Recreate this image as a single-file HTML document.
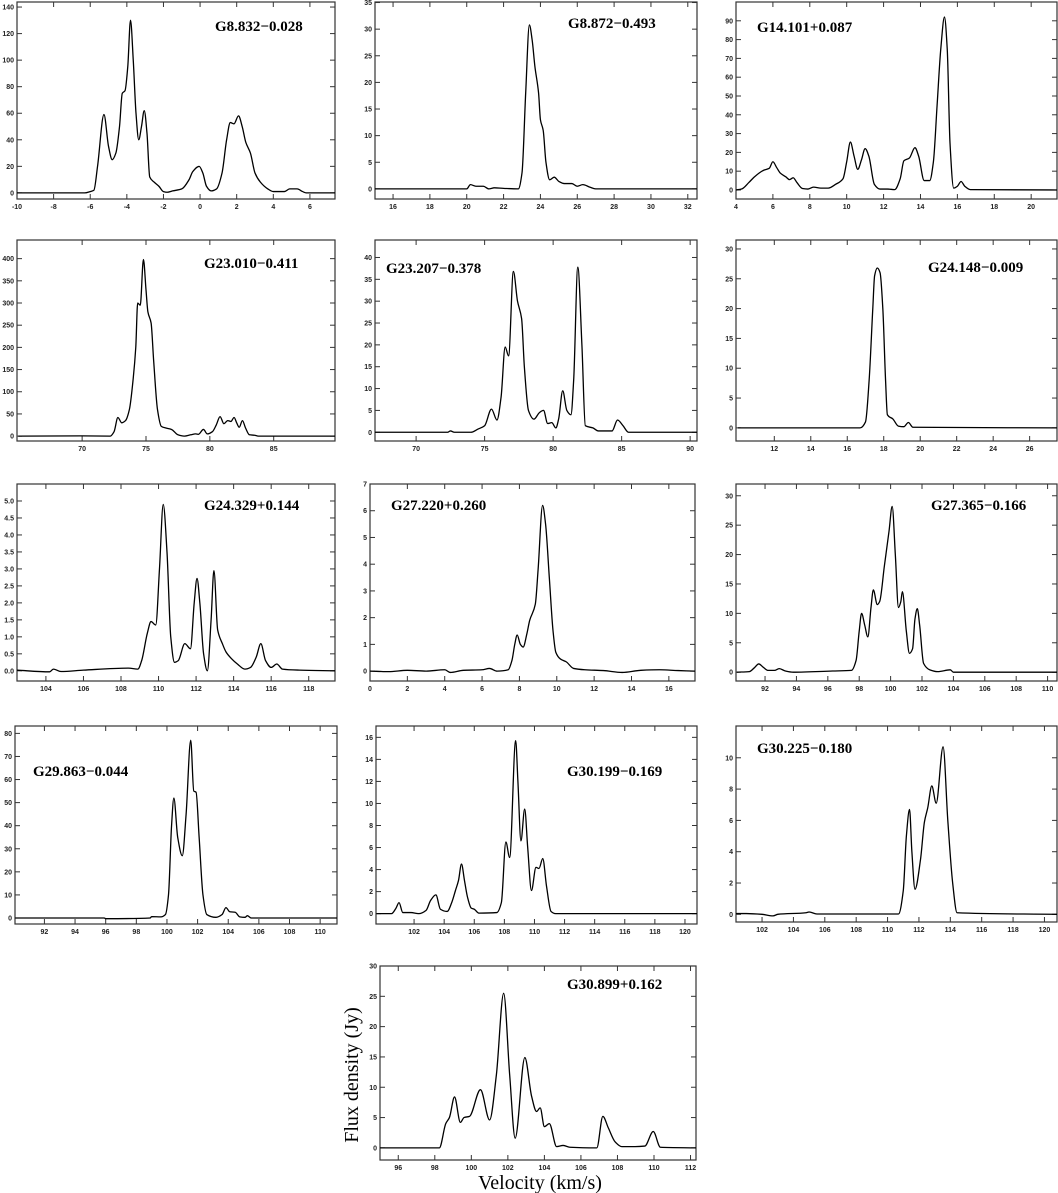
<!DOCTYPE html>
<html><head><meta charset="utf-8"><style>
html,body{margin:0;padding:0;background:#fff;}
svg{display:block;}
.tl{font-family:"Liberation Sans",sans-serif;font-size:7px;font-weight:bold;fill:#222;}
.tt{font-family:"Liberation Serif",serif;font-size:15px;font-weight:bold;fill:#000;}
.ax{font-family:"Liberation Serif",serif;font-size:20px;fill:#000;}
</style></head><body>
<svg id="fig" width="1058" height="1193" viewBox="0 0 1058 1193" xmlns="http://www.w3.org/2000/svg">
<text class="ax" transform="translate(358,1075) rotate(-90)" text-anchor="middle">Flux density (Jy)</text>
<text class="ax" x="540" y="1189" text-anchor="middle">Velocity (km/s)</text>
</svg>
<script>
const p1Vel=[-10,-6.3,-6,-5.8,-5.6,-5.25,-5.0,-4.8,-4.6,-4.4,-4.25,-4.1,-3.95,-3.8,-3.65,-3.5,-3.35,-3.2,-3.05,-2.9,-2.75,-2.5,-2.25,-2.0,-1.8,-1.5,-1.0,-0.6,-0.4,-0.05,0.15,0.35,0.6,0.9,1.2,1.45,1.65,1.85,2.1,2.3,2.5,2.75,3.0,3.3,3.7,4.0,4.6,4.9,5.3,5.6,5.8,7.4];
const p1Flux=[0,0,1,2,20,59,35,25,30,50,75,77,95,130,100,60,40,50,62,45,12,8,5,1,0.5,1.5,3,10,16,20,15,5,1.5,3,15,40,53,52,58,50,38,30,15,8,3,1,1,3,3,1,0,0];
const p2Vel=[15,20,20.2,20.5,20.9,21.2,21.5,22.0,22.8,23.0,23.2,23.4,23.55,23.7,23.9,24.0,24.15,24.3,24.5,24.75,25.0,25.3,25.7,26.0,26.3,26.7,27.0,32.5];
const p2Flux=[0,0,0.8,0.5,0.5,0,0.2,0.1,0,3,18,30.8,28,23,18,13,11,5,1.7,2.2,1.4,1,1,0.5,0.8,0.3,0,0];
const p3Vel=[4,4.3,4.7,5.0,5.5,5.8,6.0,6.2,6.4,6.7,6.9,7.1,7.3,7.6,7.9,8.2,8.6,9.0,9.4,9.8,10.0,10.2,10.4,10.6,10.8,11.0,11.2,11.5,11.8,12.2,12.6,12.9,13.1,13.4,13.7,13.9,14.2,14.5,14.7,14.9,15.1,15.3,15.45,15.6,15.8,16.0,16.2,16.4,16.7,21.4];
const p3Flux=[0,0.5,4,7,10.5,11.5,15,12,9,7,5.5,6.5,4,0.8,0.5,1.5,1,1,3,6,15,25.5,18,11,16,22,18,3,0.5,0.5,0.2,6,15.5,17,22.5,18,5,5,15,45,75,92,75,25,1,2,4.5,2,0.2,0];
const p4Vel=[65,70,72.2,72.5,72.8,73.1,73.4,73.7,74.0,74.2,74.35,74.55,74.8,75.0,75.15,75.4,75.6,75.9,76.2,76.6,77.0,77.5,78.0,78.5,78.9,79.1,79.5,79.8,80.2,80.5,80.8,81.1,81.4,81.65,81.9,82.1,82.3,82.55,82.8,83.1,83.5,83.8,90];
const p4Flux=[0,0.5,0,10,42,30,35,60,130,200,300,295,398,330,280,255,170,60,22,18,15,3,0,3,5,4,15,5,10,25,44,28,35,33,42,30,20,35,18,3,2,0,0];
const p5Vel=[67,72.3,72.5,72.8,74.0,74.5,75.0,75.5,75.9,76.2,76.5,76.75,77.1,77.4,77.7,77.9,78.2,78.6,79.0,79.3,79.6,79.9,80.2,80.4,80.7,81.0,81.3,81.5,81.8,82.1,82.35,82.9,83.3,84.3,84.7,85.1,85.5,90.5];
const p5Flux=[0,0,0.3,0,0,0.7,1.5,5.3,2.8,8,19.5,17.5,36.8,30,26,15,5,3,4.5,5,2,2.2,1,3,9.5,5,4,12,37.8,20,1.5,1,0.3,0.3,2.8,1.5,0,0];
const p6Vel=[10,16.7,17.0,17.2,17.4,17.5,17.65,17.8,17.95,18.1,18.2,18.5,18.8,19.1,19.35,19.6,27.5];
const p6Flux=[0,0,1,8,20,25.5,26.8,26,20,8,2.2,1.5,0.3,0.2,0.9,0.1,0];
const p7Vel=[102.4,104.2,104.4,104.8,106,108.4,108.9,109.1,109.4,109.6,109.85,110.05,110.25,110.45,110.65,110.85,111.05,111.4,111.7,111.9,112.05,112.2,112.4,112.6,112.8,112.95,113.15,113.4,113.6,113.9,114.2,114.6,114.9,115.2,115.45,115.7,116.0,116.3,116.6,117.5,119.4];
const p7Flux=[0.02,-0.03,0.05,-0.02,0.02,0.08,0.05,0.3,1.1,1.45,1.35,3.0,4.9,3.5,1.0,0.25,0.3,0.8,0.65,2.0,2.72,2.0,0.5,0.0,1.5,2.95,1.2,0.8,0.55,0.35,0.2,0.05,0.1,0.4,0.8,0.3,0.1,0.2,0.05,0.02,0];
const p8Vel=[0,1,2,3,4,4.3,5,6,6.4,6.8,7.4,7.6,7.75,7.88,8.05,8.2,8.4,8.55,8.85,9.0,9.24,9.4,9.6,9.8,9.95,10.2,10.5,10.9,11.5,12.5,13.5,14.5,15.5,16.5,17.4];
const p8Flux=[0,-0.02,0.03,0,0.05,-0.05,0.03,0.05,0.1,0,0.05,0.4,1.0,1.35,1.0,0.9,1.4,1.9,2.5,3.8,6.2,5.5,3.5,1.5,0.7,0.45,0.35,0.1,0.05,0.02,-0.05,0.03,0.05,0.02,0];
const p9Vel=[90.2,91.0,91.3,91.6,91.9,92.2,92.6,92.9,93.3,93.8,96.3,97.5,97.8,98.0,98.15,98.35,98.55,98.75,98.9,99.15,99.3,99.6,99.9,100.1,100.3,100.5,100.65,100.75,101.0,101.2,101.4,101.55,101.7,101.85,102.1,102.5,103.0,103.8,104.0,110.6];
const p9Flux=[0,0.1,0.7,1.4,0.8,0.3,0.3,0.6,0.2,0,0.2,0.3,2,7,10,8,6,11,14,11.5,12,18,24,28.2,20,11,12,13.7,7,3.2,4,9,10.8,8,1.5,0.4,0.1,0.4,0,0];
const p10Vel=[90.1,95.9,96.0,98.9,99.0,99.6,99.9,100.1,100.3,100.45,100.7,101.0,101.25,101.55,101.75,101.9,102.1,102.35,102.6,103.2,103.6,103.85,104.1,104.45,104.75,105.1,105.25,105.5,111.1];
const p10Flux=[0,0,-0.3,0,0.6,0.5,1.5,10,40,52,35,27,45,77,55,54.5,35,10,1.5,0.3,1.5,4.5,2.7,2.5,0.5,0.3,1,0,0];
const p11Vel=[99.5,100.5,100.8,101.0,101.25,101.8,102.3,102.8,103.1,103.45,103.75,104.2,104.5,104.75,104.95,105.15,105.35,105.55,105.8,106.0,106.3,107.5,107.8,108.1,108.35,108.75,108.9,109.1,109.35,109.55,109.8,110.1,110.3,110.55,110.8,111.1,111.4,120.8];
const p11Flux=[0,0,0.5,1.0,0.1,0.1,0,0.3,1.2,1.7,0.4,0.2,1.0,2.1,3,4.5,3,1.5,0.5,0.4,0.05,0.1,1,6.5,5.1,15.7,12,6.6,9.5,6,2.1,4.2,4.1,5.0,2.5,0.2,0,0];
const p12Vel=[100.3,101,102,102.7,103,104.8,105,105.5,110.7,111.0,111.2,111.4,111.55,111.75,112.1,112.35,112.56,112.82,113.1,113.54,113.84,114.15,114.43,120.8];
const p12Flux=[0.05,0.05,0,-0.1,0,0.1,0.15,0.02,0.02,1.5,5,6.7,4,1.6,3.5,5.9,6.8,8.2,7.1,10.7,6,2,0.1,0];
const p13Vel=[95,98.25,98.6,98.8,99.08,99.4,99.6,99.9,100.5,101.0,101.37,101.77,102.1,102.4,102.93,103.3,103.57,103.77,104.0,104.27,104.67,105.03,105.4,106.87,107.2,107.5,107.87,108.24,108.9,109.5,109.96,110.35,112.3];
const p13Flux=[0,0,4,5,8.4,4.2,5,5.2,9.6,4.6,12,25.5,12,1.6,14.9,8.5,6,6.6,3.5,4,0.2,0.4,0.1,0,5.2,3.3,1,0.2,0.2,0.3,2.7,0.1,0];

const xt1=[-10,-8,-6,-4,-2,0,2,4,6], yt1=[0,20,40,60,80,100,120,140];
const xt2=[16,18,20,22,24,26,28,30,32], yt2=[0,5,10,15,20,25,30,35];
const xt3=[4,6,8,10,12,14,16,18,20], yt3=[0,10,20,30,40,50,60,70,80,90];
const xt4=[70,75,80,85], yt4=[0,50,100,150,200,250,300,350,400];
const xt5=[70,75,80,85,90], yt5=[0,5,10,15,20,25,30,35,40];
const xt6=[12,14,16,18,20,22,24,26], yt6=[0,5,10,15,20,25,30];
const xt7=[104,106,108,110,112,114,116,118], yt7=[0,0.5,1,1.5,2,2.5,3,3.5,4,4.5,5];
const xt8=[0,2,4,6,8,10,12,14,16], yt8=[0,1,2,3,4,5,6,7];
const xt9=[92,94,96,98,100,102,104,106,108,110], yt9=[0,5,10,15,20,25,30];
const xt10=[92,94,96,98,100,102,104,106,108,110], yt10=[0,10,20,30,40,50,60,70,80];
const xt11=[102,104,106,108,110,112,114,116,118,120], yt11=[0,2,4,6,8,10,12,14,16];
const xt12=[102,104,106,108,110,112,114,116,118,120], yt12=[0,2,4,6,8,10];
const xt13=[96,98,100,102,104,106,108,110,112], yt13=[0,5,10,15,20,25,30];

const panels=[
 {name:'G8.832\u22120.028',v:p1Vel,f:p1Flux,xt:xt1,yt:yt1,yd:0,box:[17,2,335,199],xr:[-10,7.37],yr:[-4.6,143.8],tp:[215,31]},
 {name:'G8.872\u22120.493',v:p2Vel,f:p2Flux,xt:xt2,yt:yt2,yd:0,box:[375,2,697,199],xr:[15.02,32.5],yr:[-1.9,35.1],tp:[568,28]},
 {name:'G14.101+0.087',v:p3Vel,f:p3Flux,xt:xt3,yt:yt3,yd:0,box:[736,2,1057,199],xr:[4,21.4],yr:[-4.8,100],tp:[757,32]},
 {name:'G23.010\u22120.411',v:p4Vel,f:p4Flux,xt:xt4,yt:yt4,yd:0,box:[17,240,335,441],xr:[64.9,89.8],yr:[-11,442],tp:[204,268]},
 {name:'G23.207\u22120.378',v:p5Vel,f:p5Flux,xt:xt5,yt:yt5,yd:0,box:[375,240,697,441],xr:[67,90.5],yr:[-2,44],tp:[386,273]},
 {name:'G24.148\u22120.009',v:p6Vel,f:p6Flux,xt:xt6,yt:yt6,yd:0,box:[736,240,1057,441],xr:[9.9,27.5],yr:[-2.2,31.5],tp:[928,272]},
 {name:'G24.329+0.144',v:p7Vel,f:p7Flux,xt:xt7,yt:yt7,yd:1,box:[17,484,335,681],xr:[102.46,119.4],yr:[-0.3,5.5],tp:[204,510]},
 {name:'G27.220+0.260',v:p8Vel,f:p8Flux,xt:xt8,yt:yt8,yd:0,box:[370,484,695,681],xr:[0,17.4],yr:[-0.37,7],tp:[391,510]},
 {name:'G27.365\u22120.166',v:p9Vel,f:p9Flux,xt:xt9,yt:yt9,yd:0,box:[736,484,1057,681],xr:[90.15,110.6],yr:[-1.5,32],tp:[931,510]},
 {name:'G29.863\u22120.044',v:p10Vel,f:p10Flux,xt:xt10,yt:yt10,yd:0,box:[15,726,337,924],xr:[90.08,111.1],yr:[-2.6,83.2],tp:[33,776]},
 {name:'G30.199\u22120.169',v:p11Vel,f:p11Flux,xt:xt11,yt:yt11,yd:0,box:[376,726,697,924],xr:[99.47,120.8],yr:[-0.94,17.03],tp:[567,776]},
 {name:'G30.225\u22120.180',v:p12Vel,f:p12Flux,xt:xt12,yt:yt12,yd:0,box:[736,726,1057,922],xr:[100.34,120.8],yr:[-0.49,12.03],tp:[757,753]},
 {name:'G30.899+0.162',v:p13Vel,f:p13Flux,xt:xt13,yt:yt13,yd:0,box:[380,966,696,1160],xr:[95,112.3],yr:[-2,30],tp:[567,989]}
];
const NS='http://www.w3.org/2000/svg';
const svg=document.getElementById('fig');
function mk(tag,attrs,parent){const e=document.createElementNS(NS,tag);for(const k in attrs)e.setAttribute(k,attrs[k]);parent.appendChild(e);return e;}
function monotonePath(pts){
  const n=pts.length;const d=[],m=new Array(n).fill(0);
  for(let k=0;k<n-1;k++){const h=pts[k+1][0]-pts[k][0];d.push(h===0?0:(pts[k+1][1]-pts[k][1])/h);}
  m[0]=d[0];m[n-1]=d[n-2];
  for(let k=1;k<n-1;k++){
    if(d[k-1]*d[k]<=0)m[k]=0;
    else{const h0=pts[k][0]-pts[k-1][0],h1=pts[k+1][0]-pts[k][0];const w1=2*h1+h0,w2=h1+2*h0;m[k]=(w1+w2)/(w1/d[k-1]+w2/d[k]);}
  }
  let s='M'+pts[0][0].toFixed(2)+','+pts[0][1].toFixed(2);
  for(let k=0;k<n-1;k++){
    const h=(pts[k+1][0]-pts[k][0])/3;
    s+=' C'+(pts[k][0]+h).toFixed(2)+','+(pts[k][1]+m[k]*h).toFixed(2)+' '+(pts[k+1][0]-h).toFixed(2)+','+(pts[k+1][1]-m[k+1]*h).toFixed(2)+' '+pts[k+1][0].toFixed(2)+','+pts[k+1][1].toFixed(2);
  }
  return s;
}
panels.forEach((p,i)=>{
  const [x0,y0,x1,y1]=p.box;
  const sx=v=>x0+(v-p.xr[0])/(p.xr[1]-p.xr[0])*(x1-x0);
  const sy=v=>y1-(v-p.yr[0])/(p.yr[1]-p.yr[0])*(y1-y0);
  const g=mk('g',{},svg);
  
  
  const clipId='c'+i;
  const cp=mk('clipPath',{id:clipId},g);
  mk('rect',{x:x0,y:y0,width:x1-x0,height:y1-y0},cp);
  p.xt.forEach(t=>{
    const x=sx(t);
    mk('line',{x1:x,y1:y1,x2:x,y2:y1-5,stroke:'#333','stroke-width':1},g);
    mk('line',{x1:x,y1:y0,x2:x,y2:y0+5,stroke:'#333','stroke-width':1},g);
    const tx=mk('text',{x:x,y:y1+10,'text-anchor':'middle',class:'tl'},g);
    
    
    tx.textContent=String(t);
  });
  p.yt.forEach(t=>{
    const y=sy(t);
    mk('line',{x1:x0,y1:y,x2:x0+5,y2:y,stroke:'#333','stroke-width':1},g);
    mk('line',{x1:x1,y1:y,x2:x1-5,y2:y,stroke:'#333','stroke-width':1},g);
    const ty=mk('text',{x:x0-3,y:y+2.5,'text-anchor':'end',class:'tl'},g);
    
    
    ty.textContent=p.yd?t.toFixed(1):String(t);
  });
  const frame=mk('rect',{x:x0,y:y0,width:x1-x0,height:y1-y0,fill:'none',stroke:'#333','stroke-width':1.2},g);
  
  
  const pts=p.v.map((v,k)=>[sx(v),sy(p.f[k])]);
  const path=mk('path',{d:monotonePath(pts),fill:'none',stroke:'#000','stroke-width':1.3,'clip-path':'url(#'+clipId+')','stroke-linejoin':'round'},g);
  
  
  const tt=mk('text',{x:p.tp[0],y:p.tp[1],class:'tt'},g);
  
  
  tt.textContent=p.name;
});
</script>
</body></html>
